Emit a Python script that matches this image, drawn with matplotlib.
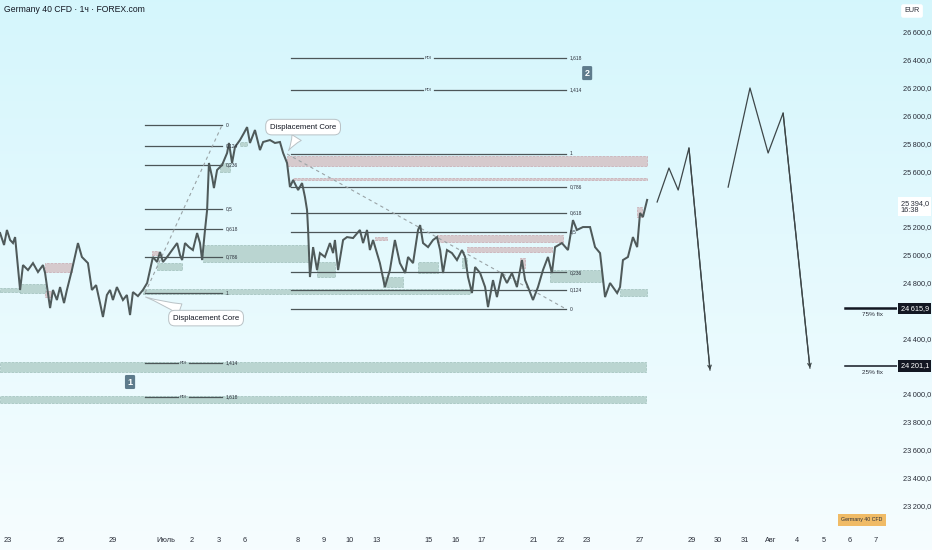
import numpy as np
import matplotlib
matplotlib.use('Agg')
import matplotlib.pyplot as plt
from matplotlib.patches import Rectangle
import matplotlib.transforms as mtrans

plt.rcParams['font.family'] = ['Liberation Sans', 'DejaVu Sans']

# ---------------- data ----------------
# x axis: trading-day index (label positions), y axis: price (EUR)
xtick_pos = [0, 2, 4, 6, 7, 8, 9, 11, 12, 13, 14, 16, 17, 18, 20, 21, 22, 24, 26, 27, 28, 29, 30, 31, 32, 33]
xtick_lab = ['23', '25', '29', 'Июль', '2', '3', '6', '8', '9', '10', '13', '15', '16', '17', '21', '22', '23',
             '27', '29', '30', '31', 'Авг', '4', '5', '6', '7']
ytick_vals = [23200, 23400, 23600, 23800, 24000, 24400, 24800, 25000, 25200, 25600, 25800, 26000, 26200, 26400, 26600]

price_day = [-0.30, -0.15, -0.04, 0.08, 0.19, 0.27, 0.34, 0.46, 0.57, 0.76, 0.95, 1.14, 1.33, 1.41, 1.60, 1.71,
             1.86, 1.98, 2.13, 2.24, 2.43, 2.66, 2.81, 3.04, 3.19, 3.35, 3.50, 3.61, 3.76, 3.88, 3.99, 4.14,
             4.37, 4.52, 4.64, 4.75, 4.94, 5.13, 5.29, 5.40, 5.51, 5.67, 5.78, 5.89, 6.05, 6.24, 6.43, 6.54,
             6.62, 6.73, 6.88, 7.03, 7.19, 7.30, 7.38, 7.49, 7.57, 7.64, 7.76, 7.83, 7.95, 8.14, 8.33, 8.40,
             8.52, 8.63, 8.82, 8.97, 9.09, 9.20, 9.39, 9.58, 9.70, 9.96, 10.15, 10.34, 10.46, 10.61, 10.72,
             10.84, 11.03, 11.18, 11.29, 11.37, 11.41, 11.48, 11.60, 11.75, 11.86, 12.05, 12.24, 12.36, 12.43,
             12.55, 12.74, 12.89, 13.12, 13.38, 13.50, 13.65, 13.76, 13.88, 14.14, 14.33, 14.52, 14.71, 14.90,
             15.10, 15.21, 15.40, 15.59, 15.67, 15.78, 15.97, 16.16, 16.31, 16.43, 16.54, 16.69, 16.88, 17.07,
             17.26, 17.38, 17.49, 17.64, 17.76, 17.95, 18.14, 18.25, 18.44, 18.59, 18.78, 18.97, 19.16, 19.35,
             19.54, 19.66, 19.77, 19.96, 20.15, 20.34, 20.53, 20.68, 20.80, 21.06, 21.29, 21.48, 21.63, 21.86,
             22.13, 22.32, 22.51, 22.70, 22.89, 23.16, 23.27, 23.38, 23.57, 23.76, 23.92, 24.03, 24.14, 24.30]
price_val = [25156, 25070, 25178, 25106, 25084, 25127, 24984, 24747, 24926, 24890, 24940, 24876, 24926, 24869,
             24617, 24747, 24675, 24768, 24653, 24747, 24890, 25084, 24984, 24940, 24747, 24782, 24653, 24553,
             24711, 24747, 24675, 24768, 24675, 24711, 24567, 24732, 24703, 24747, 24797, 24890, 24984, 24948,
             25020, 24948, 24984, 25034, 25084, 24998, 24962, 25084, 25055, 25034, 25156, 25084, 24962, 25178,
             25321, 25659, 25558, 25479, 25609, 25645, 25731, 25803, 25659, 25774, 25824, 25874, 25917, 25803,
             25896, 25752, 25810, 25824, 25803, 25810, 25731, 25659, 25486, 25537, 25465, 25515, 25415, 25321,
             25178, 24840, 25055, 24890, 25012, 24984, 25084, 25012, 25106, 24890, 25106, 25127, 25120, 25178,
             25084, 25178, 25034, 25106, 24940, 24768, 24890, 25106, 24940, 24869, 24984, 24940, 25178, 25213,
             25084, 25055, 25106, 25127, 25034, 24869, 25034, 25012, 24962, 25034, 24984, 24840, 24725, 24912,
             24869, 24768, 24624, 24818, 24696, 24869, 24797, 24869, 24768, 24962, 24818, 24768, 24675, 24768,
             24890, 24984, 24869, 25055, 25084, 25034, 25249, 25178, 25199, 25199, 25055, 25012, 24696, 24797,
             24725, 24768, 24962, 24984, 25127, 25055, 25300, 25271, 25394]

# Fibonacci tools: (start day, end day, price at level 0, price at level 1)
fib_ratios = [0, 0.124, 0.236, 0.5, 0.618, 0.786, 1]
fib_ratio_labels = ['0', '0,124', '0,236', '0,5', '0,618', '0,786', '1']
fib_ext = [1.414, 1.618]
fib_ext_labels = ['1,414', '1,618']
fib1 = (5.21, 8.14, 25932, 24725)
fib2 = (10.76, 21.22, 24610, 25724)
fib1_diag = ([5.21, 8.14], [24725, 25932])
fib2_diag = ([10.61, 21.22], [25724, 24610])

# zones: (day0, day1, price_low, price_high)
red_zones = [(10.61, 24.30, 25637, 25709), (10.84, 24.30, 25537, 25551), (16.31, 21.10, 25091, 25142),
             (17.45, 20.68, 25020, 25055), (1.41, 2.43, 24876, 24940), (1.41, 1.67, 24696, 24739),
             (23.92, 24.11, 25271, 25343), (13.95, 14.41, 25106, 25127), (5.48, 5.70, 24998, 25027),
             (19.47, 19.66, 24905, 24976)]
green_zones = [(7.41, 11.41, 24948, 25070), (11.75, 12.43, 24840, 24948), (14.26, 15.02, 24768, 24840),
               (15.59, 16.35, 24869, 24948), (20.61, 22.59, 24804, 24890), (23.27, 24.30, 24703, 24754),
               (5.13, 17.57, 24718, 24754), (-0.30, 1.41, 24732, 24761), (0.46, 1.41, 24725, 24790),
               (5.67, 6.62, 24890, 24940), (8.06, 8.44, 25594, 25659), (8.82, 9.09, 25781, 25810),
               (17.26, 17.45, 24905, 24976), (-0.30, 24.26, 24157, 24229), (-0.30, 24.26, 23935, 23985)]

# projected path
proj1_day = [24.68, 25.13, 25.48, 25.89, 26.69]
proj1_val = [25379, 25623, 25465, 25767, 24172]
proj2_day = [27.38, 28.21, 28.90, 29.47, 30.49]
proj2_val = [25486, 26198, 25731, 26018, 24186]

fix_levels = [24615.9, 24201.1]
fix_labels = ['75% fix', '25% fix']
fix_span = (31.83, 33.80)
last_price = 25394.0

# ---------------- figure ----------------
W, H = 932, 550
fig = plt.figure(figsize=(W / 100, H / 100), dpi=100)

bg = fig.add_axes([0, 0, 1, 1], zorder=-10)
g = np.linspace(0, 1, 256).reshape(-1, 1, 1)
top = np.array([0.835, 0.965, 0.99]).reshape(1, 1, 3)
bot = np.array([0.965, 0.992, 1.0]).reshape(1, 1, 3)
bg.imshow(top * (1 - g) + bot * g, aspect='auto', extent=[0, 1, 0, 1])
bg.axis('off')

ax = fig.add_axes([0, 26 / H, 897 / W, 524 / H])
ax.patch.set_alpha(0)
ax.set_xlim(-0.304, 33.80)
ax.set_ylim(23066, 26830)
for s in ax.spines.values():
    s.set_visible(False)

ax.set_xticks(xtick_pos, xtick_lab)
ax.tick_params(axis='x', length=0, pad=9, labelsize=5.3, colors='#2a2e39')
ax.yaxis.tick_right()
ax.set_yticks(ytick_vals, [f"{v // 1000}\u2009{v % 1000:03d},0" for v in ytick_vals])
ax.tick_params(axis='y', length=0, pad=4.5, labelsize=5.3, colors='#2a2e39')

LINE = '#4c5658'

# zones
for d0, d1, lo, hi in red_zones:
    ax.add_patch(Rectangle((d0, lo), d1 - d0, hi - lo, fc='#d6cacd', ec='#c8a8b0', lw=0.5, ls='--', zorder=2))
for d0, d1, lo, hi in green_zones:
    ax.add_patch(Rectangle((d0, lo), d1 - d0, hi - lo, fc='#bad5d1', ec='#9fbfba', lw=0.5, ls='--', zorder=2))

# fib tools
def draw_fib(f):
    d0, d1, p0, p1 = f
    for r, lab in zip(fib_ratios, fib_ratio_labels):
        p = p0 + r * (p1 - p0)
        ax.plot([d0, d1], [p, p], color=LINE, lw=0.9, zorder=3)
        ax.text(d1 + 0.15, p, lab, fontsize=3.5, va='center', ha='left', color='#2a2e39', zorder=6)
    mid = (d0 + d1) / 2
    gap = 0.22
    for r, lab in zip(fib_ext, fib_ext_labels):
        p = p0 + r * (p1 - p0)
        ax.plot([d0, mid - gap], [p, p], color=LINE, lw=0.9, zorder=3)
        ax.plot([mid + gap, d1], [p, p], color=LINE, lw=0.9, zorder=3)
        ax.text(mid, p, 'PDI', fontsize=3.0, va='center', ha='center', color='#2a2e39', zorder=6)
        ax.text(d1 + 0.15, p, lab, fontsize=3.5, va='center', ha='left', color='#2a2e39', zorder=6)

draw_fib(fib1)
draw_fib(fib2)
ax.plot(*fib1_diag, color='#9aa3a6', lw=0.8, ls=(0, (3, 3)), zorder=3)
ax.plot(*fib2_diag, color='#9aa3a6', lw=0.8, ls=(0, (3, 3)), zorder=3)

# price
ax.plot(price_day, price_val, color='#4f5a5a', lw=1.45, zorder=5, solid_joinstyle='miter')

# projection
PC = '#3e4749'
ax.plot(proj1_day, proj1_val, color=PC, lw=0.9, zorder=5)
ax.plot(proj2_day, proj2_val, color=PC, lw=0.9, zorder=5)
for dd, vv in ((proj1_day, proj1_val), (proj2_day, proj2_val)):
    ax.annotate('', xy=(dd[-1], vv[-1]), xytext=(dd[-2], vv[-2]),
                arrowprops=dict(arrowstyle='->', color=PC, lw=0.9, mutation_scale=6, shrinkA=0, shrinkB=0),
                zorder=5)

# fix lines
for lvl, lab, lw in zip(fix_levels, fix_labels, [1.8, 1.1]):
    ax.plot(fix_span, [lvl, lvl], color='#131722', lw=lw, zorder=5)
    ax.text((fix_span[0] + fix_span[1]) / 2 + 0.05, lvl - 45, lab, fontsize=4.6, ha='center', va='center',
            color='#2a2e39')

# callouts
co_kw = dict(ha='center', va='center', fontsize=5.6, color='#131722', zorder=8,
             bbox=dict(boxstyle='round,pad=0.55,rounding_size=0.8', fc='white', ec='#b9c2c6', lw=0.7),
             arrowprops=dict(arrowstyle='wedge,tail_width=1.4,shrink_factor=0.35', fc='white', ec='#b9c2c6',
                             lw=0.7))
ax.annotate('Displacement Core', xy=(10.61, 25731), xytext=(11.22, 25917), **co_kw)
ax.annotate('Displacement Core', xy=(5.13, 24703), xytext=(7.53, 24545), **co_kw)

# badges
for d, p, t in ((4.64, 24086, '1'), (22.02, 26305, '2')):
    ax.text(d, p, t, fontsize=6.5, fontweight='bold', color='white', ha='center', va='center', zorder=8,
            bbox=dict(boxstyle='round,pad=0.28,rounding_size=0.15', fc='#5e7b8c', ec='none'))

# axis price labels
tr = mtrans.blended_transform_factory(ax.transAxes, ax.transData)
for lvl in fix_levels:
    ax.text(1.004, lvl, f"{int(lvl) // 1000}\u2009{lvl % 1000:05.1f}".replace('.', ','), transform=tr,
            fontsize=5.3, color='white', ha='left', va='center', clip_on=False, zorder=9,
            bbox=dict(boxstyle='square,pad=0.3', fc='#131722', ec='none'))
ax.text(1.004, last_price - 50, f"{int(last_price) // 1000}\u2009{last_price % 1000:05.1f}".replace('.', ',') +
        "\n16:38", transform=tr, fontsize=5.3, color='#2a2e39', ha='left', va='center', clip_on=False, zorder=9,
        linespacing=1.1, bbox=dict(boxstyle='square,pad=0.3', fc='white', ec='none'))

# header / misc
fig.text(4 / W, 1 - 10 / H, 'Germany 40 CFD · 1ч · FOREX.com', fontsize=6.2, va='center', ha='left',
         color='#131722')
fig.text(912 / W, 1 - 11 / H, 'EUR', fontsize=5.2, va='center', ha='center', color='#2a2e39',
         bbox=dict(boxstyle='round,pad=0.45,rounding_size=0.3', fc='white', ec='none'))
fig.text(862 / W, 1 - 520 / H, 'Germany 40 CFD', fontsize=3.8, va='center', ha='center', color='#2a2e39',
         bbox=dict(boxstyle='square,pad=0.6', fc='#f0bb66', ec='none'))

fig.savefig('out.png', dpi=100)
